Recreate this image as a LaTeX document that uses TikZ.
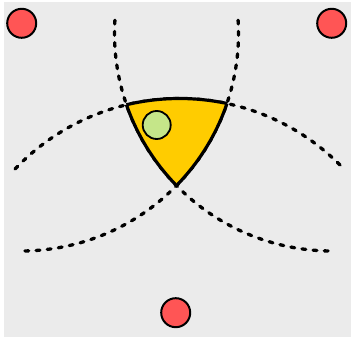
\documentclass[tikz,border=0pt]{standalone}
\usepackage{tikz}
\usepackage{xcolor}
\definecolor{bggray}{RGB}{235,235,235}
\definecolor{anchorred}{RGB}{255,85,85}
\definecolor{zoneyellow}{RGB}{255,204,0}
\definecolor{targetgreen}{RGB}{197,230,137}

\begin{document}
\begin{tikzpicture}[x=1pt, y=1pt,
  anchor dot/.style={circle, draw=black, line width=2pt, fill=anchorred, minimum size=29pt, inner sep=0pt},
  target dot/.style={circle, draw=black, line width=1.8pt, fill=targetgreen, minimum size=28pt, inner sep=0pt},
  range arc/.style={line width=3.3pt, line cap=round, dash pattern=on 3.8pt off 7.4pt},
  zone edge/.style={line width=3.2pt}]
\useasboundingbox (0,0) rectangle (356,339);
\fill[bggray] (4,2) rectangle (351,337);
\coordinate (cTL) at (21,305.5);
\coordinate (cTR) at (332,305.5);
\coordinate (cB) at (179.5,13.5);
\draw[range arc] (cTL) ++(3.5:217.5) arc[start angle=3.5, end angle=-90, radius=217.5];
\draw[range arc] (cTR) ++(176.5:217.5) arc[start angle=176.5, end angle=270, radius=217.5];
\draw[range arc] (cB) ++(136.4:227) arc[start angle=136.4, end angle=43.9, radius=227];
\begin{scope}
  \clip (cTL) circle[radius=217.5];
  \clip (cTR) circle[radius=217.5];
  \fill[zoneyellow] (cB) circle[radius=227];
  \draw[zone edge] (cB) circle[radius=227];
\end{scope}
\begin{scope}
  \clip (cTR) circle[radius=217.5];
  \clip (cB) circle[radius=227];
  \draw[zone edge] (cTL) circle[radius=217.5];
\end{scope}
\begin{scope}
  \clip (cTL) circle[radius=217.5];
  \clip (cB) circle[radius=227];
  \draw[zone edge] (cTR) circle[radius=217.5];
\end{scope}
\node[target dot] (target) at (156.7,214) {};
\node[anchor dot] (anchorA) at (21.7,315.7) {};
\node[anchor dot] (anchorB) at (331.7,315.7) {};
\node[anchor dot] (anchorC) at (175.7,26.3) {};
\end{tikzpicture}
\end{document}
